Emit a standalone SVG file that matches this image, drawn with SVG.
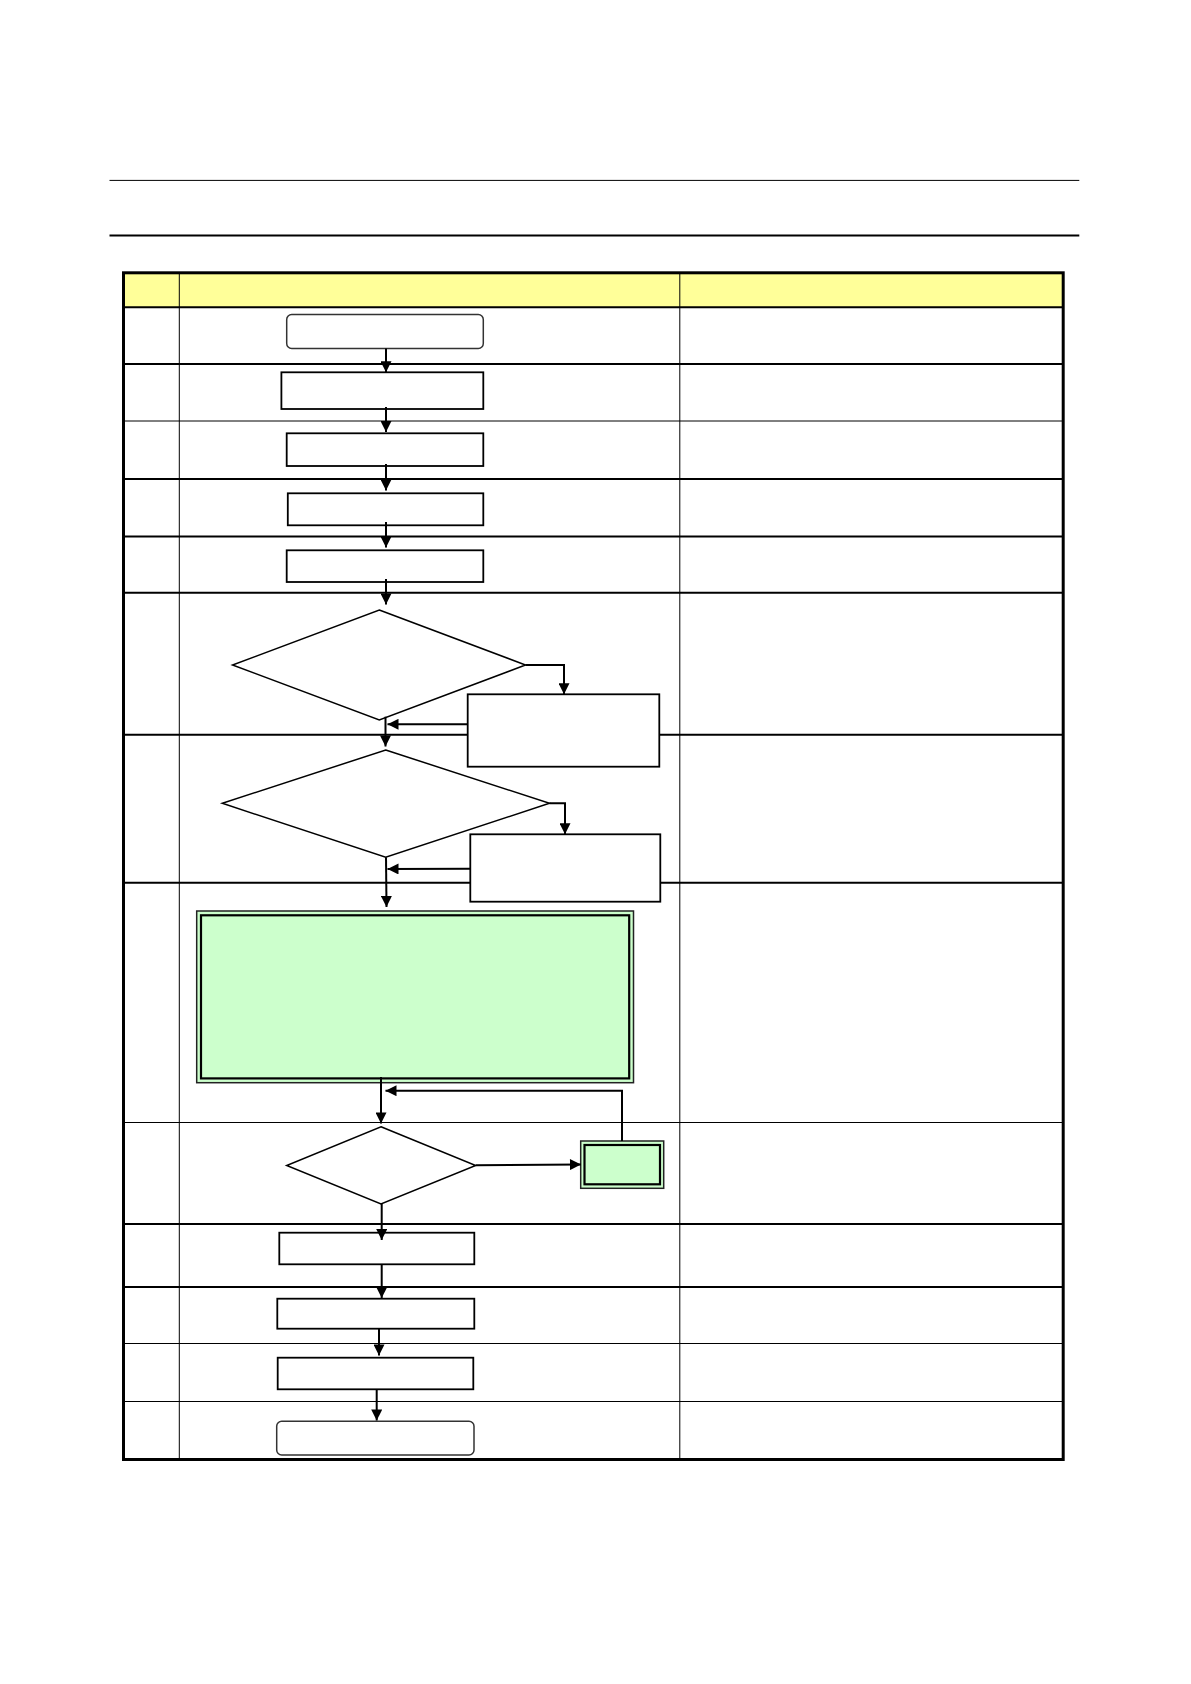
<svg xmlns="http://www.w3.org/2000/svg" width="1191" height="1684" viewBox="0 0 1191 1684">
<style>
.thin{stroke:#000;stroke-width:1;fill:none}
.thick{stroke:#000;stroke-width:2;fill:none}
.box{fill:#fff;stroke:#000;stroke-width:1.8}
.term{fill:#fff;stroke:#333;stroke-width:1.5}
.dia{fill:#fff;stroke:#000;stroke-width:1.5}
.gout{fill:#CCFFCC;stroke:#222;stroke-width:1.5}
.gin{fill:#CCFFCC;stroke:#000;stroke-width:2.2}
.conn{stroke:#000;stroke-width:2;fill:none;marker-end:url(#ah)}
</style>
<defs>
<marker id="ah" viewBox="0 0 10 10" refX="10" refY="5" markerWidth="12" markerHeight="11" markerUnits="userSpaceOnUse" orient="auto">
<path d="M0,0 L10,5 L0,10 z" fill="#000"/>
</marker>
</defs>
<rect width="1191" height="1684" fill="#fff"/>
<g id="page-rules">
<line x1="109.5" y1="180.4" x2="1079.3" y2="180.4" class="thin" stroke-width="1.2"/>
<line x1="109.5" y1="235.5" x2="1079.3" y2="235.5" class="thick"/>
</g>
<g id="table">
<rect x="123.5" y="272.8" width="939.7" height="34.4" fill="#FFFF99"/>
<line x1="179.3" y1="272.8" x2="179.3" y2="1459.5" class="thin"/>
<line x1="679.8" y1="272.8" x2="679.8" y2="1459.5" class="thin"/>
<line x1="123.5" y1="307.2" x2="1063.2" y2="307.2" class="thick" stroke-width="2.5"/>
<line x1="123.5" y1="364" x2="1063.2" y2="364" class="thick"/>
<line x1="123.5" y1="421" x2="1063.2" y2="421" class="thin"/>
<line x1="123.5" y1="479" x2="1063.2" y2="479" class="thick"/>
<line x1="123.5" y1="536.5" x2="1063.2" y2="536.5" class="thick"/>
<line x1="123.5" y1="592.8" x2="1063.2" y2="592.8" class="thick"/>
<line x1="123.5" y1="734.7" x2="1063.2" y2="734.7" class="thick" stroke-width="1.6"/>
<line x1="123.5" y1="882.7" x2="1063.2" y2="882.7" class="thick"/>
<line x1="123.5" y1="1122.5" x2="1063.2" y2="1122.5" class="thin"/>
<line x1="123.5" y1="1224" x2="1063.2" y2="1224" class="thick"/>
<line x1="123.5" y1="1287" x2="1063.2" y2="1287" class="thick"/>
<line x1="123.5" y1="1343.5" x2="1063.2" y2="1343.5" class="thin"/>
<line x1="123.5" y1="1401.5" x2="1063.2" y2="1401.5" class="thin"/>
<rect x="123.5" y="272.8" width="939.7" height="1186.7" fill="none" stroke="#000" stroke-width="3"/>
</g>
<g id="n1"><rect class="term" x="286.7" y="314.5" width="196.6" height="34" rx="5"/></g>
<g id="n2"><rect class="box" x="281.4" y="372.3" width="201.9" height="36.7"/></g>
<g id="n3"><rect class="box" x="286.7" y="433.3" width="196.6" height="32.7"/></g>
<g id="n4"><rect class="box" x="287.8" y="493.3" width="195.5" height="32"/></g>
<g id="n5"><rect class="box" x="286.7" y="550.3" width="196.6" height="31.7"/></g>
<g id="d1"><polygon class="dia" points="379.3,610 525.5,665 379.3,720 232.5,665"/></g>
<g id="b1"><rect class="box" x="467.7" y="694.3" width="191.6" height="72.4"/></g>
<g id="d2"><polygon class="dia" points="385.7,750 549.5,803.3 385.7,857.3 222.3,803.3"/></g>
<g id="b2"><rect class="box" x="470.3" y="834.3" width="190" height="67.4"/></g>
<g id="g1">
<rect class="gout" x="196.7" y="911" width="436.8" height="171.7"/>
<rect class="gin" x="201" y="915.3" width="428.2" height="163.1"/>
</g>
<g id="d3"><polygon class="dia" points="381,1126.7 475.7,1165.5 381,1204 286.7,1165.5"/></g>
<g id="g2">
<rect class="gout" x="580.7" y="1141" width="83" height="47.3"/>
<rect class="gin" x="584.5" y="1145" width="75.5" height="39.3"/>
</g>
<g id="n6"><rect class="box" x="279.3" y="1232.7" width="195" height="31.6"/></g>
<g id="n7"><rect class="box" x="277.3" y="1298.7" width="197" height="30"/></g>
<g id="n8"><rect class="box" x="277.7" y="1357.7" width="195.6" height="31.6"/></g>
<g id="n9"><rect class="term" x="276.7" y="1421.3" width="197.3" height="33.7" rx="5"/></g>
<g id="connectors">
<line class="conn" x1="386" y1="348.5" x2="386" y2="372.3"/>
<line class="conn" x1="386" y1="407" x2="386" y2="432"/>
<line class="conn" x1="386" y1="464" x2="386" y2="490.5"/>
<line class="conn" x1="386" y1="522" x2="386" y2="547.5"/>
<line class="conn" x1="386" y1="579" x2="386" y2="604.5"/>
<path class="conn" d="M525.5,665 H564 V694.3"/>
<line class="conn" x1="467.7" y1="724.3" x2="387.5" y2="724.3"/>
<line class="conn" x1="385.5" y1="716.7" x2="385.5" y2="746.5"/>
<path class="conn" d="M549.5,803.3 H565 V834.3"/>
<line class="conn" x1="470.3" y1="868.7" x2="387.5" y2="869"/>
<line class="conn" x1="386" y1="857.3" x2="386.5" y2="907"/>
<line class="conn" x1="381" y1="1077" x2="381" y2="1123.5"/>
<path class="conn" d="M622,1141 V1090.7 H385.5"/>
<line class="conn" x1="475.7" y1="1165.3" x2="581" y2="1164.5"/>
<line class="conn" x1="381.7" y1="1204" x2="381.7" y2="1240"/>
<line class="conn" x1="381.7" y1="1264.3" x2="381.7" y2="1298"/>
<line class="conn" x1="379" y1="1328.7" x2="379" y2="1355.5"/>
<line class="conn" x1="376.7" y1="1389.3" x2="376.7" y2="1420.5"/>
</g>
</svg>
